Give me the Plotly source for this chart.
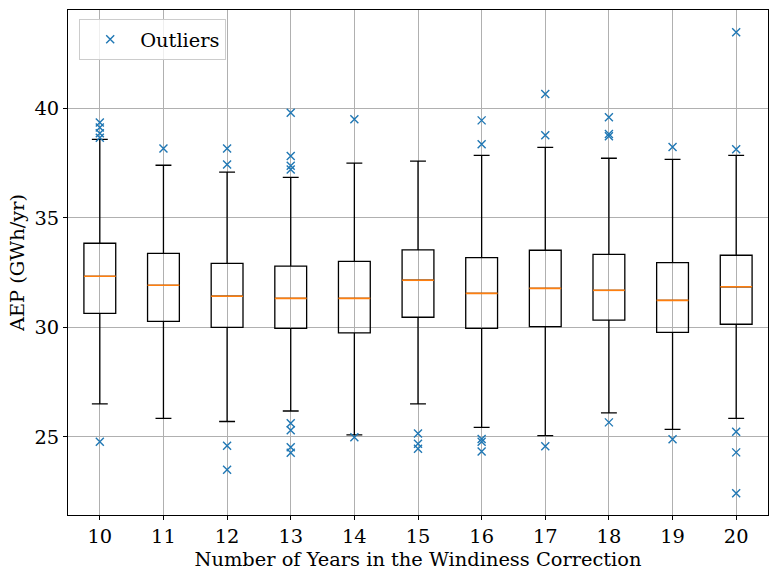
import plotly.graph_objects as go

years = [10, 11, 12, 13, 14, 15, 16, 17, 18, 19, 20]
q1 = [30.64, 30.27, 30.00, 29.95, 29.75, 30.46, 29.95, 30.03, 30.33, 29.77, 30.14]
median = [32.33, 31.92, 31.42, 31.32, 31.32, 32.15, 31.55, 31.78, 31.69, 31.23, 31.85]
q3 = [33.84, 33.38, 32.92, 32.79, 33.01, 33.54, 33.18, 33.52, 33.33, 32.95, 33.29]
lower_whisker = [26.50, 25.84, 25.70, 26.18, 25.09, 26.50, 25.43, 25.05, 26.09, 25.34, 25.84]
upper_whisker = [38.58, 37.40, 37.09, 36.85, 37.50, 37.59, 37.85, 38.22, 37.72, 37.67, 37.85]
outliers = [
    [39.35, 39.12, 38.86, 38.66, 24.77],
    [38.17],
    [38.17, 37.44, 24.59, 23.50],
    [39.80, 37.82, 37.38, 37.21, 25.62, 25.30, 24.52, 24.27],
    [39.50, 24.98],
    [25.15, 24.68, 24.45],
    [39.45, 38.36, 24.90, 24.78, 24.33],
    [40.65, 38.77, 24.57],
    [39.59, 38.83, 38.72, 25.66],
    [38.23, 24.89],
    [43.47, 38.13, 25.23, 24.29, 22.42],
]

FONT = "DejaVu Serif"
FS = 19.4
BLUE = "#1f77b4"
ORANGE = "#ff7f0e"
BOX_WIDTH = 0.5

fig = go.Figure()

fig.add_trace(go.Box(
    x=years, q1=q1, median=median, q3=q3,
    lowerfence=lower_whisker, upperfence=upper_whisker,
    width=BOX_WIDTH, whiskerwidth=0.5,
    line=dict(color="black", width=1.3),
    fillcolor="rgba(255,255,255,0)",
    boxpoints=False, showlegend=False, hoverinfo="skip",
))

# orange median lines
mx, my = [], []
for c, m in zip(years, median):
    mx += [c - BOX_WIDTH / 2, c + BOX_WIDTH / 2, None]
    my += [m, m, None]
fig.add_trace(go.Scatter(
    x=mx, y=my, mode="lines",
    line=dict(color=ORANGE, width=1.6),
    showlegend=False, hoverinfo="skip",
))

ox, oy = [], []
for c, vals in zip(years, outliers):
    for v in vals:
        ox.append(c)
        oy.append(v)
fig.add_trace(go.Scatter(
    x=ox, y=oy, mode="markers", name="Outliers",
    marker=dict(symbol="x-thin", size=8, color=BLUE,
                line=dict(color=BLUE, width=1.4)),
))

axis_common = dict(
    showline=True, linecolor="black", linewidth=1, mirror=True,
    showgrid=True, gridcolor="#b0b0b0", gridwidth=0.8,
    ticks="outside", ticklen=4, tickcolor="black", tickwidth=1,
    zeroline=False,
    tickfont=dict(family=FONT, size=FS, color="black"),
)

fig.update_layout(
    width=778, height=577,
    margin=dict(l=68, r=10, t=10, b=62),
    paper_bgcolor="white", plot_bgcolor="white",
    font=dict(family=FONT, size=FS, color="black"),
    xaxis=dict(range=[9.5, 20.5], tickmode="array", tickvals=years,
               ticktext=[str(y) for y in years],
               title=dict(text="Number of Years in the Windiness Correction",
                          font=dict(family=FONT, size=FS), standoff=0),
               **axis_common),
    yaxis=dict(range=[21.43, 44.49], tickvals=[25, 30, 35, 40],
               title=dict(text="AEP (GWh/yr)", font=dict(family=FONT, size=FS),
                          standoff=4),
               **axis_common),
    legend=dict(x=0.016, y=0.982, xanchor="left", yanchor="top",
                bgcolor="rgba(255,255,255,0.8)", bordercolor="#cccccc",
                borderwidth=1, font=dict(family=FONT, size=FS),
                itemwidth=50),
    showlegend=True,
)

fig.write_html("out.html")
